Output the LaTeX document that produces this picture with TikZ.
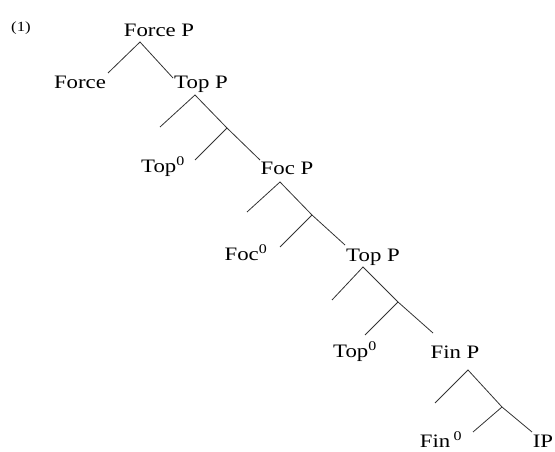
\documentclass[tikz,border=0pt]{standalone}
\usepackage{fontspec}
\setmainfont{Liberation Serif}[FakeStretch=1.2]
\begin{document}
\begin{tikzpicture}[x=1pt,y=-1pt,
  lbl/.style={anchor=base,inner sep=0pt,font=\fontsize{19}{21}\selectfont},
  br/.style={draw=black!80,line width=0.8pt}]
\useasboundingbox (0,0) rectangle (555,452);
% labels
\node[lbl,font=\fontsize{14}{16}\selectfont] (ex) at (21,32) {(1)};
\node[lbl] (forceP) at (159,37) {Force P};
\node[lbl] (force) at (80,89) {Force};
\node[lbl] (topPa) at (201,89) {Top P};
\node[lbl] (topHa) at (163,172) {Top\textsuperscript{0}};
\node[lbl] (focP) at (287,175) {Foc P};
\node[lbl] (focH) at (246,260) {Foc\textsuperscript{0}};
\node[lbl] (topPb) at (373,261) {Top P};
\node[lbl] (topHb) at (355,357) {Top\textsuperscript{0}};
\node[lbl] (finP) at (455,358) {Fin P};
\node[lbl] (finH) at (441,447) {Fin\,\textsuperscript{0}};
\node[lbl] (ip) at (543,447) {IP};
% branch points
\coordinate (a0) at (140,42);
\coordinate (f0) at (108,73);
\coordinate (t0) at (173,78);
\coordinate (a1) at (195,95);
\coordinate (s1) at (160,127);
\coordinate (b1) at (227,128);
\coordinate (h1) at (195,160);
\coordinate (c1) at (260,160);
\coordinate (a2) at (280,182);
\coordinate (s2) at (247,212);
\coordinate (b2) at (312,215);
\coordinate (h2) at (280,247);
\coordinate (c2) at (345,245);
\coordinate (a3) at (363,267);
\coordinate (s3) at (332,300);
\coordinate (b3) at (398,302);
\coordinate (h3) at (365,335);
\coordinate (c3) at (433,333);
\coordinate (a4) at (468,370);
\coordinate (s4) at (435,403);
\coordinate (b4) at (502,407);
\coordinate (h4) at (473,432);
\coordinate (c4) at (532,432);
% branches
\draw[br] (f0) -- (a0) -- (t0);
\draw[br] (s1) -- (a1) -- (b1) -- (c1);
\draw[br] (b1) -- (h1);
\draw[br] (s2) -- (a2) -- (b2) -- (c2);
\draw[br] (b2) -- (h2);
\draw[br] (s3) -- (a3) -- (b3) -- (c3);
\draw[br] (b3) -- (h3);
\draw[br] (s4) -- (a4) -- (b4) -- (c4);
\draw[br] (b4) -- (h4);
\end{tikzpicture}
\end{document}
